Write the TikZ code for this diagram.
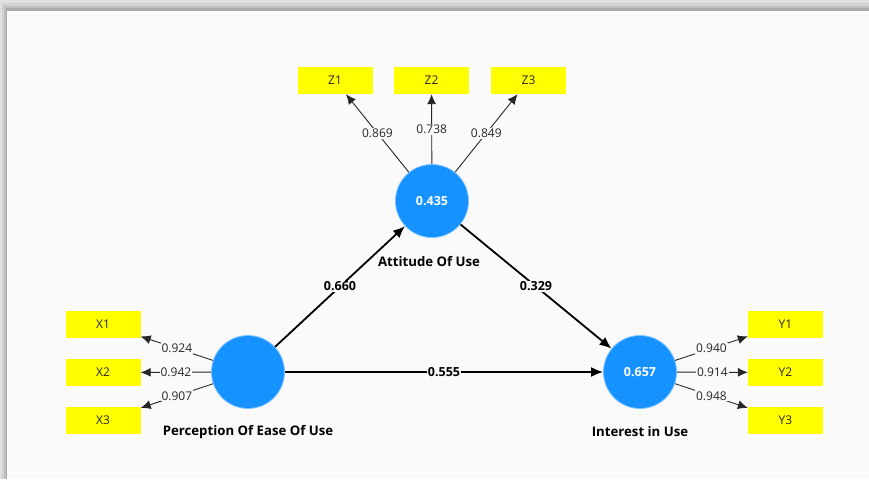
\documentclass[tikz,border=0pt]{standalone}
\usepackage{fontspec}
\setmainfont{Open Sans}
\usetikzlibrary{arrows.meta}
\definecolor{panelbg}{HTML}{FAFAFA}
\definecolor{latentblue}{HTML}{1592FF}
\definecolor{itemyellow}{HTML}{FFFF00}
\tikzset{
  item/.style={fill=itemyellow, minimum width=75pt, minimum height=27pt, inner sep=0pt,
    text=black!85, font=\fontsize{12}{14}\selectfont},
  latent/.style={circle, fill=latentblue, draw=latentblue!55, line width=0.8pt,
    minimum size=73pt, inner sep=0pt, text=white, font=\bfseries\fontsize{12.5}{14}\selectfont},
  latentname/.style={font=\bfseries\fontsize{13.2}{15}\selectfont},
  loading/.style={-{Latex[length=10pt,width=9pt]}, line width=0.9pt, black!85},
  coef/.style={-{Latex[length=12pt,width=10pt]}, line width=1.8pt},
  val/.style={fill=panelbg, inner sep=1pt, text=black!85, font=\fontsize{12}{14}\selectfont},
  coefval/.style={fill=panelbg, inner sep=1pt, font=\bfseries\fontsize{12.5}{14}\selectfont}
}
\begin{document}
\begin{tikzpicture}[x=1pt, y=-1pt]
    % window frame
    \fill[panelbg] (0,0) rectangle (869,479);
    \fill[black!12] (0,0) rectangle (869,3);
    \fill[black!18] (0,3) rectangle (869,6);
    \fill[black!25] (0,6) rectangle (869,8);
    \fill[black!33] (0,8) rectangle (869,11);
    \fill[black!12] (0,0) rectangle (2,479);
    \fill[black!18] (2,3) rectangle (4,479);
    \fill[black!25] (4,6) rectangle (6,479);
    \fill[black!33] (6,8) rectangle (7,479);
    \useasboundingbox (0,0) rectangle (869,479);

    % latent variables
    \node[latent] (att) at (432,201) {0.435};
    \node[latent] (peou) at (248,372) {};
    \node[latent] (int) at (640,372) {0.657};
    \node[latentname] (attname) at (429,262) {Attitude Of Use};
    \node[latentname] (peouname) at (248,432) {Perception Of Ease Of Use};
    \node[latentname] (intname) at (640,432) {Interest in Use};

    % indicators
    \node[item] (z1) at (335,80.5) {Z1};
    \node[item] (z2) at (431.5,80.5) {Z2};
    \node[item] (z3) at (528.5,80.5) {Z3};
    \node[item] (x1) at (103,324) {X1};
    \node[item] (x2) at (103,372.5) {X2};
    \node[item] (x3) at (103,420.5) {X3};
    \node[item] (y1) at (785.5,324) {Y1};
    \node[item] (y2) at (785.5,372.5) {Y2};
    \node[item] (y3) at (785.5,420.5) {Y3};

    % outer loadings
    \draw[loading] (att) -- (z1) node[val, pos=0.5] {0.869};
    \draw[loading] (att) -- (z2) node[val, pos=0.5] {0.738};
    \draw[loading] (att) -- (z3) node[val, pos=0.5] {0.849};
    \draw[loading] (peou) -- (x1) node[val, pos=0.5] {0.924};
    \draw[loading] (peou) -- (x2) node[val, pos=0.5] {0.942};
    \draw[loading] (peou) -- (x3) node[val, pos=0.5] {0.907};
    \draw[loading] (int) -- (y1) node[val, pos=0.5] {0.940};
    \draw[loading] (int) -- (y2) node[val, pos=0.5] {0.914};
    \draw[loading] (int) -- (y3) node[val, pos=0.5] {0.948};

    % path coefficients
    \draw[coef] (peou) -- (att) node[coefval, pos=0.5] {0.660};
    \draw[coef] (att) -- (int) node[coefval, pos=0.5] {0.329};
    \draw[coef] (peou) -- (int) node[coefval, pos=0.5] {0.555};
\end{tikzpicture}
\end{document}
